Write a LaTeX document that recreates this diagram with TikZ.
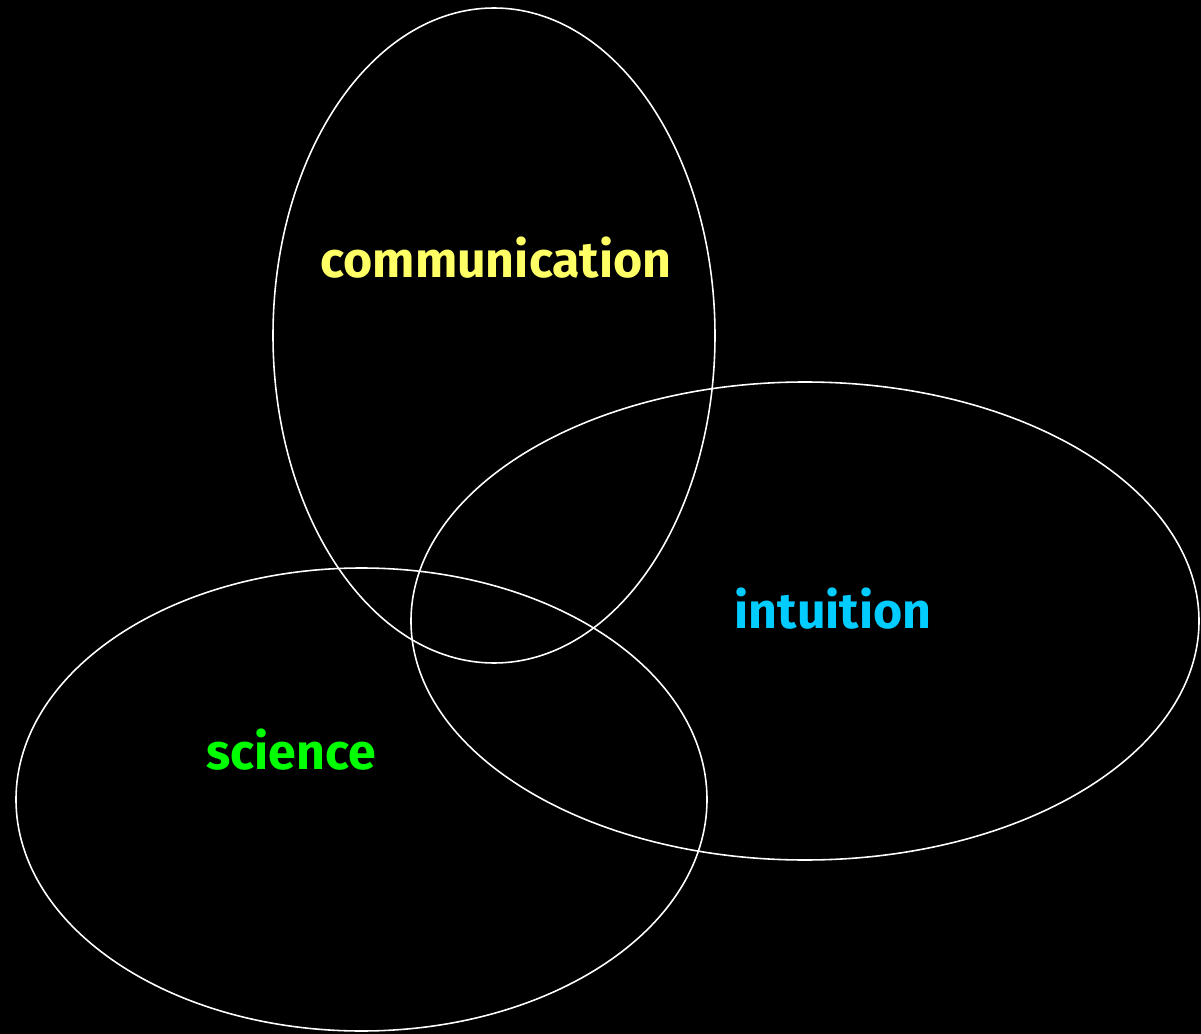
\documentclass[tikz,border=0pt]{standalone}
\usepackage{fontspec}
\setsansfont{Fira Sans}
\definecolor{commcol}{RGB}{255,255,102}
\definecolor{intucol}{RGB}{0,204,255}
\definecolor{scicol}{RGB}{0,255,0}
\tikzset{
  ring/.style={draw=white,line width=0.9pt},
  word/.style={font=\sffamily\bfseries\fontsize{28.5}{32}\selectfont}
}
\begin{document}
\begin{tikzpicture}[x=0.02cm,y=-0.02cm]
          \fill [black] (0,0) rectangle (1201,1034);
          \useasboundingbox (0,0) rectangle (1201,1034);
          \coordinate (comm) at (494,335.5);
          \coordinate (intu) at (805,621);
          \coordinate (sci) at (361.5,799.5);
          \draw [ring] (comm) ellipse [x radius=221, y radius=327.5];
          \draw [ring] (intu) ellipse [x radius=394, y radius=239];
          \draw [ring] (sci) ellipse [x radius=345.5, y radius=231.5];
          \node [word,text=commcol] (commlabel) at (496,258) {communication};
          \node [word,text=intucol] (intulabel) at (833,609) {intuition};
          \node [word,text=scicol] (scilabel) at (291,750) {science};
\end{tikzpicture}
\end{document}
